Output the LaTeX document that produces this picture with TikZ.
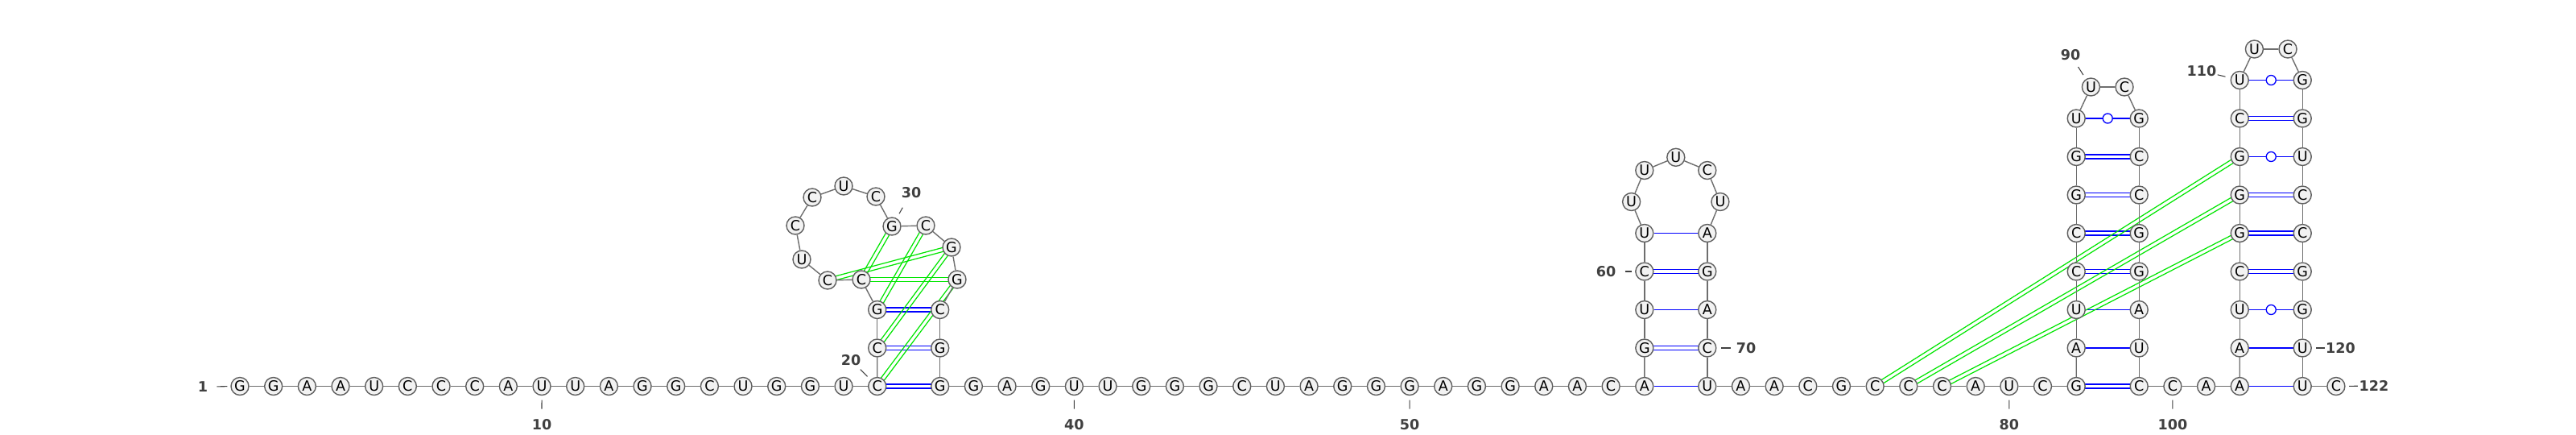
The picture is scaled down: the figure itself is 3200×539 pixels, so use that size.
\documentclass[tikz,border=0pt]{standalone}
\usepackage{fontspec}
\setmainfont{DejaVu Sans}
\usepackage{xcolor}
\usepackage{tikz}
\usetikzlibrary{calc,backgrounds}

\definecolor{ntfill}{RGB}{242,242,242}
\definecolor{ntline}{RGB}{96,96,96}
\definecolor{bbline}{RGB}{110,110,110}
\definecolor{pairblue}{RGB}{0,0,255}
\definecolor{pkgreen}{RGB}{0,230,0}
\definecolor{lblgray}{RGB}{64,64,64}

% two parallel strokes between two bases
\newcommand{\dpair}[3]{%
	\draw[#3] ($(#1)!1.4pt!90:(#2)$) -- ($(#2)!1.4pt!-90:(#1)$);
	\draw[#3] ($(#1)!1.4pt!-90:(#2)$) -- ($(#2)!1.4pt!90:(#1)$);}

\tikzset{
	nt/.style={circle, draw=ntline, fill=ntfill, line width=0.8pt, minimum size=0.44cm, inner sep=0pt, font=\fontsize{10}{12}\selectfont},
	bb/.style={draw=bbline, line width=0.8pt},
	gcline/.style={draw=pairblue, line width=0.7pt},
	auline/.style={draw=pairblue, line width=0.75pt},
	pkline/.style={draw=pkgreen, line width=0.7pt},
	gu/.style={circle, draw=pairblue, fill=white, line width=0.75pt, minimum size=0.24cm, inner sep=0pt},
	lbl/.style={font=\fontsize{10}{12}\selectfont\bfseries, text=lblgray, inner sep=0pt},
	tick/.style 2 args={draw=lblgray, line width=0.6pt, shorten <=#1, shorten >=#2}
}

\begin{document}
\begin{tikzpicture}[x=0.02cm, y=-0.02cm]
		\useasboundingbox (0,0) rectangle (3200,539);
		
		% bases on the baseline
		\foreach \b [count=\i] in {G,G,A,A,U,C,C,C,A,U,U,A,G,G,C,U,G,G,U,C}
			\node[nt] (n\i) at ({298+(\i-1)*41.67},479.5) {\b};
		\foreach \b [count=\i from 36] in {G,G,A,G,U,U,G,G,G,C,U,A,G,G,G,A,G,G,A,A,C,A}
			\node[nt] (n\i) at ({1167.7+(\i-36)*41.67},479.5) {\b};
		\foreach \b [count=\i from 71] in {U,A,A,C,G,C,C,C,A,U,C,G}
			\node[nt] (n\i) at ({2120.8+(\i-71)*41.67},479.5) {\b};
		\foreach \b [count=\i from 99] in {C,C,A,A}
			\node[nt] (n\i) at ({2657.2+(\i-99)*41.67},479.5) {\b};
		\foreach \b [count=\i from 121] in {U,C}
			\node[nt] (n\i) at ({2860.2+(\i-121)*41.67},479.5) {\b};
		
		% stems
		\foreach \i/\b/\k in {21/C/1,22/G/2,35/G/1,34/C/2}{
			\pgfmathsetmacro\x{\i<30 ? 1089.7 : 1167.7}
			\node[nt] (n\i) at (\x,{479.5-47.5*\k}) {\b};
		}
		\foreach \b [count=\k] in {G,U,C,U}{
			\pgfmathtruncatemacro\i{57+\k}
			\node[nt] (n\i) at (2042.8,{479.5-47.5*\k}) {\b};
		}
		\foreach \b [count=\k] in {C,A,G,A}{
			\pgfmathtruncatemacro\i{71-\k}
			\node[nt] (n\i) at (2120.8,{479.5-47.5*\k}) {\b};
		}
		\foreach \b [count=\k] in {A,U,C,C,G,G,U}{
			\pgfmathtruncatemacro\i{82+\k}
			\node[nt] (n\i) at (2579.2,{479.5-47.5*\k}) {\b};
		}
		\foreach \b [count=\k] in {U,A,G,G,C,C,G}{
			\pgfmathtruncatemacro\i{99-\k}
			\node[nt] (n\i) at (2657.2,{479.5-47.5*\k}) {\b};
		}
		\foreach \b [count=\k] in {A,U,C,G,G,G,C,U}{
			\pgfmathtruncatemacro\i{102+\k}
			\node[nt] (n\i) at (2782.2,{479.5-47.5*\k}) {\b};
		}
		\foreach \b [count=\k] in {U,G,G,C,C,U,G,G}{
			\pgfmathtruncatemacro\i{121-\k}
			\node[nt] (n\i) at (2860.2,{479.5-47.5*\k}) {\b};
		}
		
		% loops
		\foreach \i/\b/\x/\y in {23/C/1070/347, 24/C/1028/348, 25/U/996/322, 26/C/988/280,
				27/C/1009/245, 28/U/1048/231, 29/C/1088/244, 30/G/1108/281, 31/C/1150/280,
				32/G/1182/307, 33/G/1189/347,
				62/U/2026.6/250.5, 63/U/2042.8/211.5, 64/U/2081.8/195.3, 65/C/2120.8/211.5, 66/U/2136.9/250.5,
				90/U/2597.4/108, 91/C/2639/108, 111/U/2800.4/61, 112/C/2842/61}
			\node[nt] (n\i) at (\x,\y) {\b};
		
		% backbone
		\foreach \i in {1,...,121}{
			\pgfmathtruncatemacro\j{\i+1}
			\draw[bb] (n\i) -- (n\j);
		}
		
		\begin{pgfonlayer}{background}
			\fill[white] (0,0) rectangle (3200,539);
			\foreach \a/\b in {20/36,21/35,22/34,58/70,60/68,82/99,85/96,86/95,87/94,88/93,105/118,106/117,107/116,109/114}
				\dpair{n\a}{n\b}{gcline};
			\foreach \a/\b in {57/71,59/69,61/67,83/98,84/97,102/121,103/120}
				\draw[auline] (n\a) -- (n\b);
			\foreach \a/\b in {89/92,104/119,108/115,110/113}
				\draw[auline] (n\a) -- node[gu]{} (n\b);
			\foreach \a/\b in {30/23,31/22,32/24,33/23,32/21,33/20,76/108,77/107,78/106}
				\dpair{n\a}{n\b}{pkline};
		\end{pgfonlayer}
		
		% numbering
		\node[lbl] (l1) at (252,480) {1};
		\draw[tick={0.22cm}{0.08cm}] (l1) -- (n1);
		\foreach \i/\x in {10/673, 40/1334.4, 50/1751.1, 80/2495.8, 100/2698.9}{
			\node[lbl] (l\i) at (\x,527) {\i};
			\draw[tick={0.25cm}{0.11cm}] (l\i) -- (n\i);
		}
		\node[lbl] (l20) at (1057,447) {20};
		\draw[tick={0.13cm}{0.11cm}] (l20) -- (n20);
		\node[lbl] (l30) at (1132,239) {30};
		\draw[tick={0.27cm}{0.13cm}] (l30) -- (n30);
		\node[lbl] (l60) at (1995,337) {60};
		\draw[tick={0.22cm}{0.08cm}] (l60) -- (n60);
		\node[lbl] (l70) at (2169,432) {70};
		\draw[tick={0.13cm}{0.11cm}] (l70) -- (n70);
		\node[lbl] (l90) at (2572,68) {90};
		\draw[tick={0.19cm}{0.12cm}] (l90) -- (n90);
		\node[lbl] (l110) at (2735,88) {110};
		\draw[tick={0.02cm}{0.13cm}] (l110) -- (n110);
		\node[lbl] (l120) at (2907.5,432) {120};
		\draw[tick={0.02cm}{0.1cm}] (l120) -- (n120);
		\node[lbl] (l122) at (2949,479) {122};
		\draw[tick={0.03cm}{0.09cm}] (l122) -- (n122);
	\end{tikzpicture}
\end{document}
